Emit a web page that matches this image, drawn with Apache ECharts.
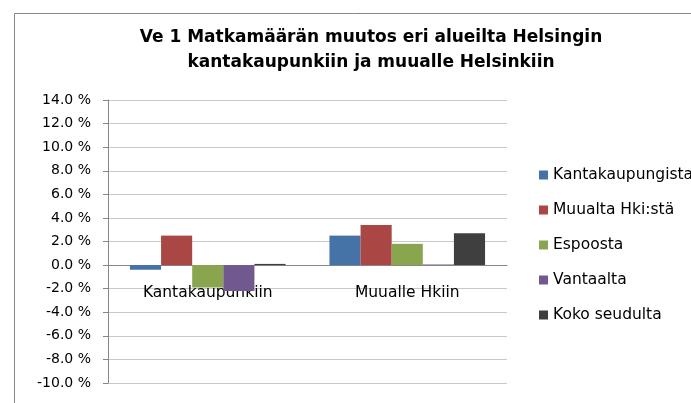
<!DOCTYPE html>
<html>
<head>
<meta charset="utf-8">
<script src="https://cdn.jsdelivr.net/npm/echarts@6/dist/echarts.min.js"></script>
<style>
  html, body { margin: 0; padding: 0; background: #fff; }
  #chart { width: 691px; height: 403px; }
</style>
</head>
<body>
<div id="chart"></div>
<script>
// data
const categories = ['Kantakaupunkiin', 'Muualle Hkiin']
const seriesNames = ['Kantakaupungista', 'Muualta Hki:stä', 'Espoosta', 'Vantaalta', 'Koko seudulta']
const kantakaupungista = [-0.4, 2.5]
const muualtaHki = [2.5, 3.4]
const espoosta = [-1.9, 1.8]
const vantaalta = [-2.2, 0.05]
const kokoSeudulta = [0.1, 2.7]
const colors = ['#4572A7', '#AA4643', '#89A54E', '#71588F', '#3F3F3F']

const values = [kantakaupungista, muualtaHki, espoosta, vantaalta, kokoSeudulta]
const font = '"DejaVu Sans", sans-serif'

const chart = echarts.init(document.getElementById('chart'))
chart.setOption({
  backgroundColor: '#fff',
  animation: false,
  color: colors,
  title: {
    text: 'Ve 1 Matkamäärän muutos eri alueilta Helsingin\nkantakaupunkiin ja muualle Helsinkiin',
    left: 366,
    top: 20,
    textAlign: 'center',
    textStyle: {
      fontFamily: font,
      fontSize: 17,
      fontWeight: 'bold',
      color: '#000',
      lineHeight: 25
    }
  },
  graphic: [
    {
      type: 'rect',
      shape: { x: 14.5, y: 13.5, width: 800, height: 500 },
      style: { fill: 'none', stroke: '#868686', lineWidth: 1 },
      silent: true
    }
  ],
  legend: {
    orient: 'vertical',
    left: 534,
    top: 162,
    itemWidth: 9,
    itemHeight: 9,
    itemGap: 19,
    icon: 'rect',
    data: seriesNames,
    textStyle: {
      fontFamily: font,
      fontSize: 15.5,
      color: '#000'
    }
  },
  grid: {
    left: 108,
    right: 184,
    top: 100,
    bottom: 20
  },
  xAxis: {
    type: 'category',
    data: categories,
    offset: -118,
    axisLine: { onZero: false, lineStyle: { color: '#868686' } },
    axisTick: { show: false },
    axisLabel: {
      margin: 20,
      fontFamily: font,
      fontSize: 15.5,
      color: '#000'
    }
  },
  yAxis: {
    type: 'value',
    min: -10,
    max: 14,
    interval: 2,
    axisLine: { show: true, lineStyle: { color: '#868686' } },
    axisTick: { show: true, inside: false, length: 5, lineStyle: { color: '#868686' } },
    splitLine: { lineStyle: { color: '#c8c8c8' } },
    axisLabel: {
      margin: 17,
      fontFamily: font,
      fontSize: 14,
      color: '#000',
      formatter: function (v) { return v.toFixed(1) + ' %' }
    }
  },
  series: seriesNames.map(function (name, i) {
    return {
      name: name,
      type: 'bar',
      data: values[i],
      barGap: 0,
      barCategoryGap: '22%'
    }
  })
})
</script>
</body>
</html>
